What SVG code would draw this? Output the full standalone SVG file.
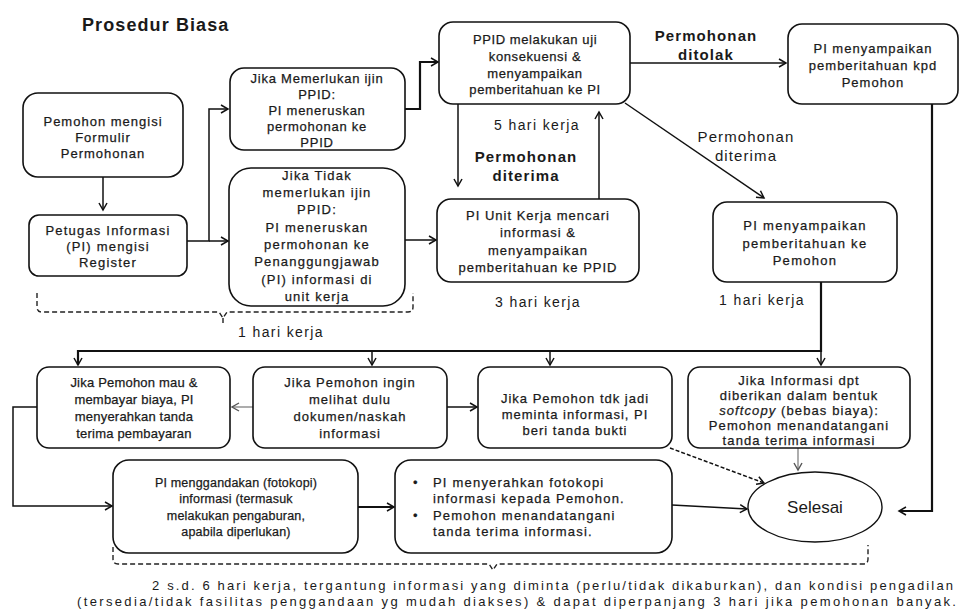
<svg xmlns="http://www.w3.org/2000/svg" width="964" height="610" viewBox="0 0 964 610">
<style>
text{font-family:"Liberation Sans",Arial,sans-serif;fill:#1a1a1a;}
.t{font-size:13px;text-anchor:middle;stroke:#1a1a1a;stroke-width:0.25;}
.box{fill:#fff;stroke:#111;stroke-width:1.6;}
.ln{fill:none;stroke:#111;stroke-width:1.5;}
.thk{stroke-width:2.2;}
.gr{stroke:#777;stroke-width:1.2;}
.dash{fill:none;stroke:#222;stroke-width:1.4;stroke-dasharray:5,3;}
.lbl{font-size:15px;font-weight:bold;text-anchor:middle;letter-spacing:1.1px;}
.hk{font-size:14px;text-anchor:middle;letter-spacing:1.4px;}
</style>
<defs>
<marker id="ar" markerUnits="userSpaceOnUse" markerWidth="10" markerHeight="10" refX="8" refY="5" orient="auto">
<path d="M1,1 L8,5 L1,9" fill="none" stroke="#111" stroke-width="1.5"/>
</marker>
<marker id="arg" markerUnits="userSpaceOnUse" markerWidth="10" markerHeight="10" refX="8" refY="5" orient="auto">
<path d="M1,1 L8,5 L1,9" fill="none" stroke="#555" stroke-width="1.4"/>
</marker>
</defs>
<rect width="964" height="610" fill="#fff"/>
<text x="82" y="31" style="font-size:18px;font-weight:bold;letter-spacing:1.1px;">Prosedur Biasa</text>

<g id="connectors">
<path class="ln" d="M103,177 V210" marker-end="url(#ar)"/>
<path class="ln" d="M187,241 H209 V109 H228" marker-end="url(#ar)"/>
<path class="ln" d="M209,241 H228" marker-end="url(#ar)"/>
<path class="ln thk" d="M405,109 H420 V62 H438" marker-end="url(#ar)"/>
<path class="ln" d="M405,240 H436" marker-end="url(#ar)"/>
<path class="ln" d="M458,104 V186" marker-end="url(#ar)"/>
<path class="ln" d="M599,199 V112" marker-end="url(#ar)"/>
<path class="ln" d="M630,63 H786" marker-end="url(#ar)"/>
<path class="ln" d="M625,103 L764,198" marker-end="url(#ar)"/>
<path class="ln thk" d="M821,282 V351 H78 V365" marker-end="url(#ar)"/>
<path class="ln" d="M372,351 V365" marker-end="url(#ar)"/>
<path class="ln" d="M550,351 V365" marker-end="url(#ar)"/>
<path class="ln" d="M821,351 V365" marker-end="url(#ar)"/>
<path class="ln gr" d="M253,407 H232" marker-end="url(#arg)"/>
<path class="ln" d="M447,407 H477" marker-end="url(#ar)"/>
<path class="ln" d="M37,407 H13 V506 H112" marker-end="url(#ar)"/>
<path class="ln thk" d="M358,507 H394" marker-end="url(#ar)"/>
<path class="ln" d="M672,505 L747,509" marker-end="url(#ar)"/>
<path class="ln" d="M670,448 L764,483" stroke-dasharray="4,2" marker-end="url(#ar)"/>
<path class="ln gr" d="M798,448 V470" marker-end="url(#arg)"/>
<path class="ln thk" d="M932,104 V511 H899" marker-end="url(#ar)"/>
<path class="dash" d="M37,293 V307 Q37,312 42,312 H219 L223,318 L227,312 H408 Q413,312 413,307 V293 M223,318 V324"/>
<path class="dash" d="M113,547 V559 Q113,564 118,564 H489 L493,570 L497,564 H863 Q868,564 868,559 V545"/>
</g>

<g id="nA">
<rect class="box" x="23" y="93" width="160" height="84" rx="15"/>
<text class="t" style="letter-spacing:1px"><tspan x="103" y="126">Pemohon mengisi</tspan><tspan x="103" y="142">Formulir</tspan><tspan x="103" y="158">Permohonan</tspan></text>
</g>
<g id="nB">
<rect class="box" x="29" y="215" width="158" height="61" rx="10"/>
<text class="t" style="letter-spacing:1.2px"><tspan x="108" y="235">Petugas Informasi</tspan><tspan x="108" y="251">(PI) mengisi</tspan><tspan x="108" y="267">Register</tspan></text>
</g>
<g id="nC">
<rect class="box" x="230" y="68" width="175" height="82" rx="14"/>
<text class="t" style="letter-spacing:0.75px"><tspan x="317" y="83">Jika Memerlukan ijin</tspan><tspan x="317" y="99">PPID:</tspan><tspan x="317" y="115">PI meneruskan</tspan><tspan x="317" y="131">permohonan ke</tspan><tspan x="317" y="147">PPID</tspan></text>
</g>
<g id="nD">
<rect class="box" x="229" y="168" width="176" height="138" rx="22"/>
<text class="t" style="letter-spacing:1.2px"><tspan x="317" y="180">Jika Tidak</tspan><tspan x="317" y="197">memerlukan ijin</tspan><tspan x="317" y="214">PPID:</tspan><tspan x="317" y="232">PI meneruskan</tspan><tspan x="317" y="249">permohonan ke</tspan><tspan x="317" y="266">Penanggungjawab</tspan><tspan x="317" y="284">(PI) informasi di</tspan><tspan x="317" y="301">unit kerja</tspan></text>
</g>
<g id="nE">
<rect class="box" x="439" y="22" width="191" height="82" rx="14"/>
<text class="t" style="letter-spacing:0.6px"><tspan x="535" y="44">PPID melakukan uji</tspan><tspan x="535" y="61">konsekuensi &amp;</tspan><tspan x="535" y="78">menyampaikan</tspan><tspan x="535" y="94">pemberitahuan ke PI</tspan></text>
</g>
<g id="nF">
<rect class="box" x="437" y="199" width="202" height="83" rx="14"/>
<text class="t" style="letter-spacing:1px"><tspan x="538" y="220">PI Unit Kerja mencari</tspan><tspan x="538" y="237">informasi &amp;</tspan><tspan x="538" y="255">menyampaikan</tspan><tspan x="538" y="272">pemberitahuan ke PPID</tspan></text>
</g>
<g id="nG">
<rect class="box" x="788" y="24" width="170" height="80" rx="14"/>
<text class="t" style="letter-spacing:1px"><tspan x="873" y="53">PI menyampaikan</tspan><tspan x="873" y="70">pemberitahuan kpd</tspan><tspan x="873" y="87">Pemohon</tspan></text>
</g>
<g id="nH">
<rect class="box" x="713" y="202" width="184" height="80" rx="14"/>
<text class="t" style="letter-spacing:1.3px"><tspan x="805" y="230">PI menyampaikan</tspan><tspan x="805" y="248">pemberitahuan ke</tspan><tspan x="805" y="265">Pemohon</tspan></text>
</g>
<g id="nI">
<rect class="box" x="37" y="367" width="193" height="81" rx="12"/>
<text class="t" style="letter-spacing:0.2px"><tspan x="134" y="387">Jika Pemohon mau &amp;</tspan><tspan x="134" y="404">membayar biaya, PI</tspan><tspan x="134" y="421">menyerahkan tanda</tspan><tspan x="134" y="438">terima pembayaran</tspan></text>
</g>
<g id="nJ">
<rect class="box" x="253" y="367" width="194" height="81" rx="12"/>
<text class="t" style="letter-spacing:1px"><tspan x="350" y="387">Jika Pemohon ingin</tspan><tspan x="350" y="404">melihat dulu</tspan><tspan x="350" y="421">dokumen/naskah</tspan><tspan x="350" y="438">informasi</tspan></text>
</g>
<g id="nK">
<rect class="box" x="478" y="367" width="194" height="81" rx="12"/>
<text class="t" style="letter-spacing:1px"><tspan x="575" y="403">Jika Pemohon tdk jadi</tspan><tspan x="575" y="419">meminta informasi, PI</tspan><tspan x="575" y="435">beri tanda bukti</tspan></text>
</g>
<g id="nL">
<rect class="box" x="688" y="367" width="222" height="81" rx="12"/>
<text class="t" style="letter-spacing:1.1px"><tspan x="799" y="385">Jika Informasi dpt</tspan><tspan x="799" y="400">diberikan dalam bentuk</tspan><tspan x="799" y="415"><tspan font-style="italic">softcopy</tspan> (bebas biaya):</tspan><tspan x="799" y="430">Pemohon menandatangani</tspan><tspan x="799" y="445">tanda terima informasi</tspan></text>
</g>
<g id="nM">
<rect class="box" x="113" y="460" width="245" height="93" rx="16"/>
<text class="t" style="font-size:12.5px;letter-spacing:0.2px"><tspan x="236" y="487">PI menggandakan (fotokopi)</tspan><tspan x="236" y="503">informasi (termasuk</tspan><tspan x="236" y="520">melakukan pengaburan,</tspan><tspan x="236" y="536">apabila diperlukan)</tspan></text>
</g>
<g id="nN">
<rect class="box" x="395" y="460" width="277" height="93" rx="16"/>
<text style="font-size:13px;letter-spacing:1.2px;stroke:#1a1a1a;stroke-width:0.25"><tspan x="413" y="487">•</tspan><tspan x="433" y="487">PI menyerahkan fotokopi</tspan><tspan x="433" y="503">informasi kepada Pemohon.</tspan><tspan x="413" y="520">•</tspan><tspan x="433" y="520">Pemohon menandatangani</tspan><tspan x="433" y="536">tanda terima informasi.</tspan></text>
</g>
<g id="nEnd">
<ellipse cx="815" cy="507" rx="67" ry="35" fill="#fff" stroke="#111" stroke-width="1.4"/>
<text x="815" y="513" style="font-size:17px;text-anchor:middle;">Selesai</text>
</g>

<g id="labels">
<text class="lbl"><tspan x="706" y="41">Permohonan</tspan><tspan x="706" y="60">ditolak</tspan></text>
<text class="lbl"><tspan x="526" y="162">Permohonan</tspan><tspan x="526" y="181">diterima</tspan></text>
<text class="lbl" style="font-weight:normal"><tspan x="746" y="142">Permohonan</tspan><tspan x="746" y="161">diterima</tspan></text>
<text class="hk" x="537" y="130">5 hari kerja</text>
<text class="hk" x="538" y="307">3 hari kerja</text>
<text class="hk" x="762" y="305">1 hari kerja</text>
<text class="hk" x="281" y="337">1 hari kerja</text>
<text x="152" y="590" textLength="801" lengthAdjust="spacing" style="font-size:13px">2 s.d. 6 hari kerja, tergantung informasi yang diminta (perlu/tidak dikaburkan), dan kondisi pengadilan</text>
<text x="77" y="606" textLength="879" lengthAdjust="spacing" style="font-size:13px">(tersedia/tidak fasilitas penggandaan yg mudah diakses) &amp; dapat diperpanjang 3 hari jika pemohonan banyak.</text>
</g>
</svg>
